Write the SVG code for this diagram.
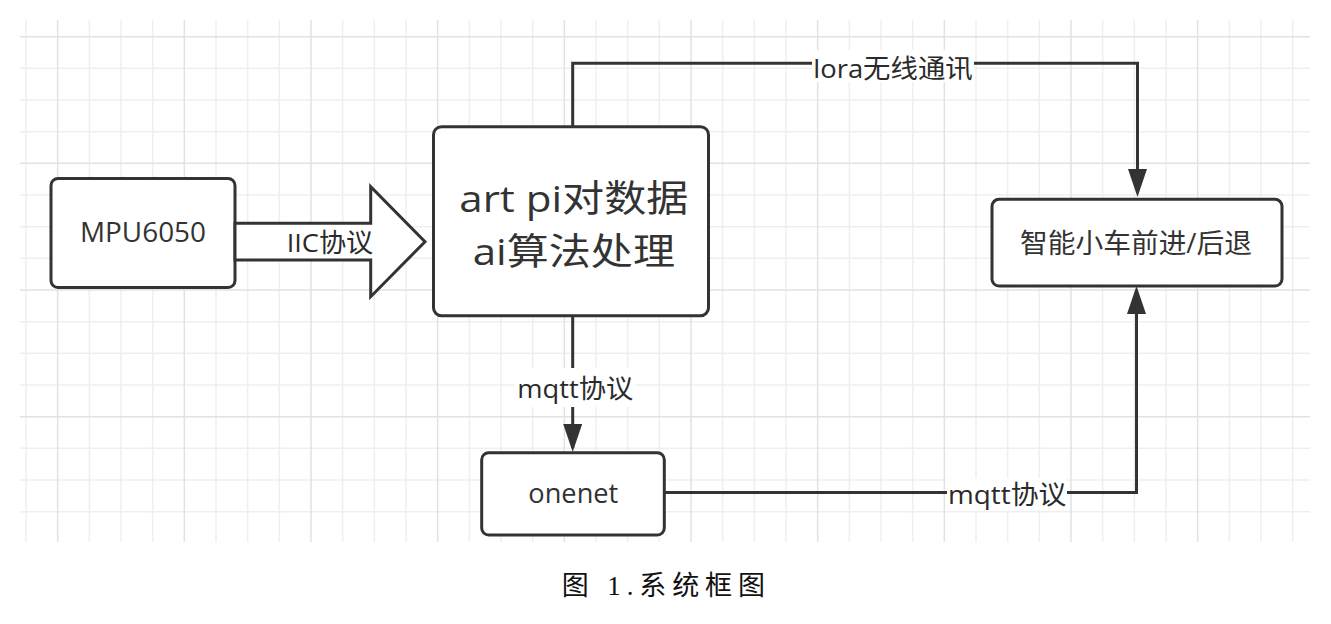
<svg xmlns="http://www.w3.org/2000/svg" width="1331" height="624" viewBox="0 0 1331 624">
<style>
.minor{stroke:#efefef;stroke-width:1.5;fill:none}
.major{stroke:#e2e2e2;stroke-width:1.5;fill:none}
.box{fill:#fff;stroke:#333;stroke-width:3}
.t{font-family:"Open Sans","Noto Sans CJK SC",sans-serif;fill:#333}
.lbl{font-family:"Open Sans","Noto Sans CJK SC",sans-serif;fill:#2a2a2a;font-size:26px}
.edge{fill:none;stroke:#333;stroke-width:3}
.bg{fill:#fff}
.cap{font-family:"Liberation Serif","Noto Sans CJK SC",serif;font-size:27px;fill:#111}
</style>
<defs>
<marker id="ah" markerUnits="userSpaceOnUse" markerWidth="30" markerHeight="22" refX="24" refY="9.5" orient="auto">
<path d="M0,0 L28,9.5 L0,19 Z" fill="#333"/>
</marker>
</defs>
<rect width="1331" height="624" fill="#fff"/>
<g id="grid">
<path class="minor" d="M26 20V542M89.33 20V542M121 20V542M152.67 20V542M216 20V542M247.67 20V542M279.33 20V542M342.67 20V542M374.33 20V542M406 20V542M469.33 20V542M501 20V542M532.67 20V542M596 20V542M627.67 20V542M659.33 20V542M722.67 20V542M754.33 20V542M786 20V542M849.33 20V542M881 20V542M912.67 20V542M976 20V542M1007.67 20V542M1039.33 20V542M1102.67 20V542M1134.33 20V542M1166 20V542M1229.33 20V542M1261 20V542M1292.67 20V542M20 68.33H1310M20 100H1310M20 131.67H1310M20 195H1310M20 226.67H1310M20 258.33H1310M20 321.67H1310M20 353.33H1310M20 385H1310M20 448.33H1310M20 480H1310M20 511.67H1310"/>
<path class="major" d="M57.67 20V542M184.33 20V542M311 20V542M437.67 20V542M564.33 20V542M691 20V542M817.67 20V542M944.33 20V542M1071 20V542M1197.67 20V542M20 36.67H1310M20 163.33H1310M20 290H1310M20 416.67H1310"/>
</g>
<g id="connectors">
<path class="edge" d="M572.7 126.7V63.3H1137.5V193" marker-end="url(#ah)"/>
<rect class="bg" x="812" y="50" width="162" height="32"/>
<text class="lbl" x="813.3" y="78" textLength="159.4" lengthAdjust="spacingAndGlyphs">lora无线通讯</text>
<path class="edge" d="M572.7 316V448" marker-end="url(#ah)"/>
<rect class="bg" x="515" y="368" width="121" height="39"/>
<text class="lbl" x="517.3" y="398" textLength="116" lengthAdjust="spacingAndGlyphs">mqtt协议</text>
<path class="edge" d="M665 492.5H1136.5V290" marker-end="url(#ah)"/>
<rect class="bg" x="947" y="478" width="120" height="32"/>
<text class="lbl" x="948" y="504" textLength="118.5" lengthAdjust="spacingAndGlyphs">mqtt协议</text>
</g>
<g id="mpu6050">
<rect class="box" x="51" y="178.5" width="184" height="109" rx="7"/>
<text class="t" x="80" y="241.7" font-size="27" textLength="126" lengthAdjust="spacingAndGlyphs">MPU6050</text>
</g>
<g id="iic">
<polygon points="235,223.3 370.7,223.3 370.7,186.7 425,241.7 370.7,296.7 370.7,260 235,260" fill="#fff" stroke="#333" stroke-width="3" stroke-linejoin="miter"/>
<text class="lbl" x="286.7" y="252" textLength="86.6" lengthAdjust="spacingAndGlyphs">IIC协议</text>
</g>
<g id="artpi">
<rect class="box" x="433.5" y="126.7" width="275" height="189" rx="8"/>
<text class="t" x="459.3" y="211.7" font-size="37" textLength="229" lengthAdjust="spacingAndGlyphs">art pi对数据</text>
<text class="t" x="472.7" y="265" font-size="37" textLength="202.3" lengthAdjust="spacingAndGlyphs">ai算法处理</text>
</g>
<g id="car">
<rect class="box" x="992" y="199.3" width="290" height="86.7" rx="7"/>
<text class="t" x="1020" y="253" font-size="27" textLength="232" lengthAdjust="spacingAndGlyphs">智能小车前进/后退</text>
</g>
<g id="onenet">
<rect class="box" x="481.7" y="452.7" width="182.6" height="82.3" rx="7"/>
<text class="t" x="528.3" y="503.3" font-size="27" textLength="90" lengthAdjust="spacingAndGlyphs">onenet</text>
</g>
<text class="cap" x="561.7" y="595" textLength="203.3" lengthAdjust="spacing">图 1.系统框图</text>
</svg>
